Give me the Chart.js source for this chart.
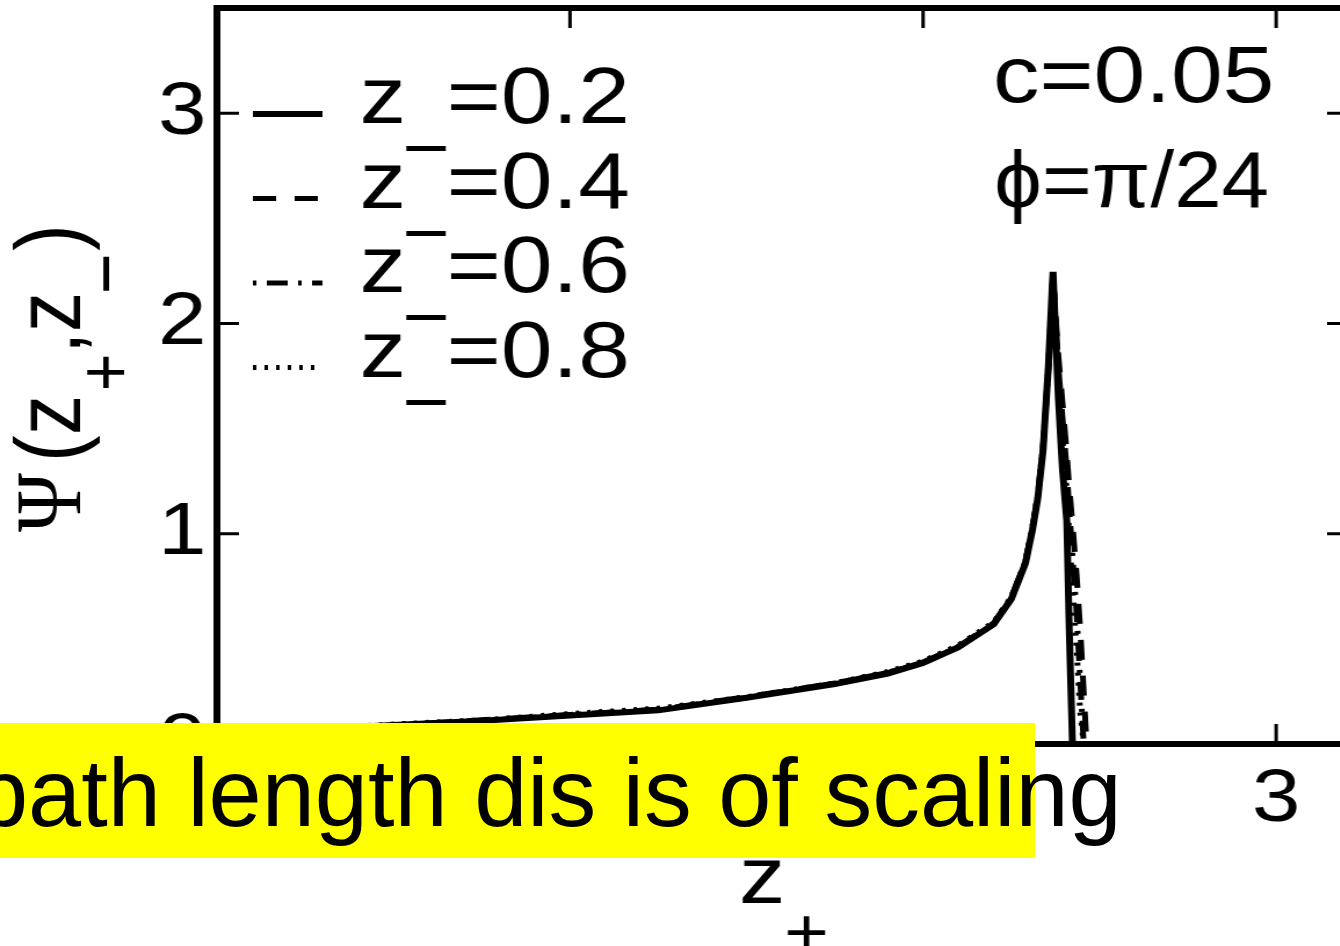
<!DOCTYPE html>
<html>
<head>
<meta charset="utf-8">
<script src="https://cdn.jsdelivr.net/npm/chart.js@4.4.1/dist/chart.umd.min.js"></script>
<style>
  html, body { margin: 0; padding: 0; background: #fff; }
  body { width: 1340px; height: 946px; overflow: hidden; position: relative; }
  /* the figure is drawn a bit narrow and widened, like the printed plot */
  #plot { position: absolute; left: 0; top: 0; transform: scaleX(1.16); transform-origin: 0 0; }
  #captionBg { position: absolute; left: 0; top: 723px; width: 1035px; height: 135px; background: #ffff00; }
  #caption { position: absolute; left: -25px; top: 746px; font: 95.5px "Liberation Sans", Arial, sans-serif;
             line-height: 1; white-space: nowrap; color: #000; }
</style>
</head>
<body>
<canvas id="plot" width="1180" height="946"></canvas>
<div id="captionBg"></div>
<div id="caption">path length dis is of scaling</div>
<script>
// z+ grid shared by all four curves
const zPlus = [0, 0.25, 0.5, 0.75, 1.0, 1.25, 1.5, 1.75, 1.9, 2.0, 2.1, 2.2, 2.25, 2.29, 2.31, 2.325,
               2.34, 2.355, 2.368, 2.383, 2.395, 2.407, 2.414, 2.423, 2.435, 2.445, 2.455, 2.463];

// Psi(z+, z-) for each z-
const psi02 = [0.05, 0.07, 0.09, 0.11, 0.135, 0.16, 0.22, 0.285, 0.335, 0.385, 0.46, 0.57, 0.69, 0.86, 1.02, 1.17,
               1.40, 1.80, 2.245, 1.65, 1.30, 1.06, 0.545, 0.0, null, null, null, null];
const psi04 = [0.05, 0.07, 0.09, 0.115, 0.14, 0.165, 0.225, 0.29, 0.34, 0.39, 0.465, 0.575, 0.70, 0.87, 1.03, 1.18,
               1.41, 1.78, 2.22, 1.85, 1.62, 1.38, 1.22, 1.05, 0.80, 0.55, 0.25, 0.0];
const psi06 = [0.05, 0.07, 0.09, 0.11, 0.14, 0.165, 0.22, 0.29, 0.34, 0.39, 0.46, 0.57, 0.69, 0.865, 1.03, 1.18,
               1.42, 1.80, 2.24, 1.80, 1.55, 1.30, 1.12, 0.90, 0.62, 0.30, 0.0, null];
const psi08 = [0.05, 0.07, 0.095, 0.115, 0.145, 0.17, 0.225, 0.29, 0.345, 0.395, 0.47, 0.58, 0.70, 0.87, 1.04, 1.19,
               1.42, 1.79, 2.23, 1.75, 1.45, 1.20, 1.00, 0.75, 0.45, 0.15, 0.0, null];

const zMinusLabels = ['0.2', '0.4', '0.6', '0.8'];
const xTicks = [0, 1, 2, 3];
const yTicks = [0, 1, 2, 3];

const FONT = '"Liberation Sans", Arial, sans-serif';
const SERIF = '"Liberation Serif", "Times New Roman", serif';

function pts(ys) {
  return zPlus.map((x, i) => ({ x: x, y: ys[i] }));
}

const styles = [
  { borderWidth: 6, borderDash: [] },
  { borderWidth: 5, borderDash: [20, 16] },
  { borderWidth: 5, borderDash: [3, 9, 18, 9] },
  { borderWidth: 5, borderDash: [3, 7] }
];

const datasets = [psi02, psi04, psi06, psi08].map((ys, i) => ({
  label: 'z- =' + zMinusLabels[i],
  data: pts(ys),
  borderColor: '#000',
  borderWidth: styles[i].borderWidth,
  borderDash: styles[i].borderDash,
  pointRadius: 0,
  tension: 0,
  spanGaps: false,
  fill: false
}));

// box, inward ticks, legend, notes and axis titles
const decorations = {
  id: 'decorations',
  afterDraw(chart) {
    const ctx = chart.ctx;
    const { left, right, top, bottom } = chart.chartArea;
    const xs = chart.scales.x, ys = chart.scales.y;
    ctx.save();
    ctx.strokeStyle = '#000';
    ctx.fillStyle = '#000';

    ctx.lineWidth = 3;
    xTicks.forEach(v => {
      if (v === 0) return;
      const px = xs.getPixelForValue(v);
      ctx.beginPath();
      ctx.moveTo(px, top); ctx.lineTo(px, top + 20);
      ctx.moveTo(px, bottom); ctx.lineTo(px, bottom - 20);
      ctx.stroke();
    });
    yTicks.forEach(v => {
      if (v === 0) return;
      const py = ys.getPixelForValue(v);
      ctx.beginPath();
      ctx.moveTo(left, py); ctx.lineTo(left + 19, py);
      ctx.moveTo(right, py); ctx.lineTo(right - 17, py);
      ctx.stroke();
    });

    ctx.lineWidth = 6;
    ctx.strokeRect(left, top, right - left, bottom - top);

    // legend
    ctx.textBaseline = 'alphabetic';
    ctx.textAlign = 'left';
    chart.data.datasets.forEach((ds, i) => {
      const y = 123 + i * 84.5;
      ctx.save();
      ctx.lineWidth = ds.borderWidth;
      ctx.setLineDash(ds.borderDash);
      ctx.beginPath();
      ctx.moveTo(218, y - 9);
      ctx.lineTo(278, y - 9);
      ctx.stroke();
      ctx.restore();
      ctx.font = '80px ' + FONT;
      ctx.fillText('z', 310, y);
      ctx.font = '70px ' + FONT;
      ctx.fillText('\u2212', 347, y + 49);
      ctx.font = '80px ' + FONT;
      ctx.fillText('=' + zMinusLabels[i], 385, y);
    });

    ctx.font = '80px ' + FONT;
    ctx.fillText('c=0.05', 856, 102);
    ctx.fillText('\u03d5=\u03c0/24', 857, 207, 237);

    // x title: z+
    ctx.fillText('z', 637, 903);
    ctx.font = '66px ' + FONT;
    ctx.fillText('+', 676, 955);

    // y title: Psi(z+,z-), read bottom to top
    ctx.save();
    ctx.translate(69, 532);
    ctx.rotate(-Math.PI / 2);
    ctx.font = '80px ' + SERIF;
    ctx.fillText('\u03a8', 0, 0);
    ctx.font = '80px ' + FONT;
    ctx.fillText('(', 70, 0);
    ctx.fillText('z', 97, 0);
    ctx.font = '64px ' + FONT;
    ctx.fillText('+', 141, 44);
    ctx.font = '80px ' + FONT;
    ctx.fillText(',', 178, 0);
    ctx.fillText('z', 200, 0);
    ctx.font = '70px ' + FONT;
    ctx.fillText('\u2212', 238, 46);
    ctx.font = '80px ' + FONT;
    ctx.fillText(')', 281, 0);
    ctx.restore();

    ctx.restore();
  }
};

new Chart(document.getElementById('plot'), {
  type: 'line',
  data: { datasets: datasets },
  options: {
    responsive: false,
    animation: false,
    layout: { padding: { left: 0, top: 8, right: 19, bottom: 0 } },
    plugins: { legend: { display: false }, tooltip: { enabled: false } },
    scales: {
      x: {
        type: 'linear', min: 0, max: 3.2,
        grid: { display: false, drawTicks: false },
        border: { display: false },
        afterBuildTicks: s => { s.ticks = xTicks.map(v => ({ value: v })); },
        afterFit: s => { s.height = 202; s.paddingLeft = 0; s.paddingRight = 0; },
        ticks: { color: '#000', font: { family: FONT, size: 75 }, padding: 11, maxRotation: 0, autoSkip: false,
                 callback: v => String(v) }
      },
      y: {
        type: 'linear', min: 0, max: 3.5,
        grid: { display: false, drawTicks: false },
        border: { display: false },
        afterBuildTicks: s => { s.ticks = yTicks.map(v => ({ value: v })); },
        afterFit: s => { s.width = 187; s.paddingTop = 0; s.paddingBottom = 0; },
        ticks: { color: '#000', font: { family: FONT, size: 75 }, padding: 9, autoSkip: false,
                 callback: v => String(v) }
      }
    }
  },
  plugins: [decorations]
});
</script>
</body>
</html>
